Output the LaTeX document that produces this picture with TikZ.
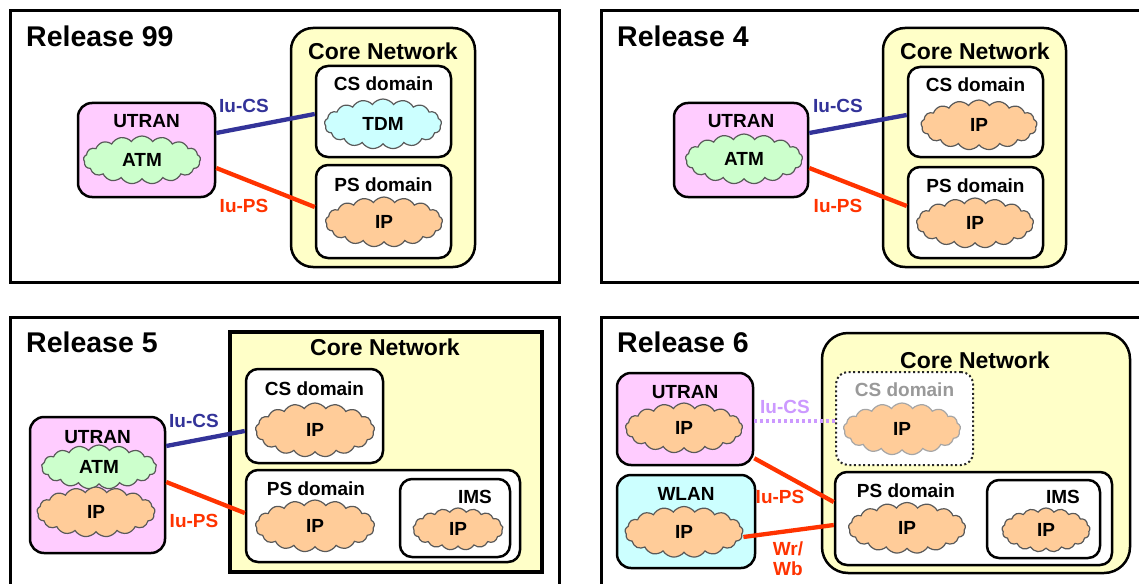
\documentclass[tikz,border=0pt]{standalone}
\usepackage{fontspec}
\setmainfont{Liberation Sans}
\usetikzlibrary{shapes.symbols}
\definecolor{coreY}{HTML}{FFFFC8}
\definecolor{ranM}{HTML}{FFCCFF}
\definecolor{atmG}{HTML}{CCFFCC}
\definecolor{tdmC}{HTML}{CCFFFF}
\definecolor{ipO}{HTML}{FFCC99}
\definecolor{wlanC}{HTML}{CCFFFF}
\definecolor{csBlue}{HTML}{333399}
\definecolor{psRed}{HTML}{FF3300}
\definecolor{lilac}{HTML}{CC99FF}
\definecolor{grayT}{HTML}{999999}
\tikzset{
  panel/.style={draw=black, line width=3pt, fill=white, rectangle, inner sep=0pt},
  corebox/.style={draw=black, line width=2.5pt, fill=coreY, rounded corners=22pt, rectangle, inner sep=0pt},
  dombox/.style={draw=black, line width=2.5pt, fill=white, rounded corners=12pt, rectangle, inner sep=0pt},
  ranbox/.style={draw=black, line width=2.5pt, fill=ranM, rounded corners=14pt, rectangle, inner sep=0pt},
  cl/.style={cloud, cloud puffs=17, cloud puff arc=110, cloud ignores aspect, draw=black!65, line width=1.2pt, inner sep=0pt, font=\fontsize{19}{19}\selectfont\bfseries},
  ipcl/.style={cl, fill=ipO},
  ttl/.style={font=\fontsize{28.5}{28.5}\selectfont\bfseries, anchor=base west, inner sep=0pt},
  corelbl/.style={font=\fontsize{23}{23}\selectfont\bfseries, anchor=base, inner sep=0pt},
  lbl/.style={font=\fontsize{19}{19}\selectfont\bfseries, anchor=base, inner sep=0pt},
  iucs/.style={draw=csBlue, line width=4.3pt},
  iups/.style={draw=psRed, line width=4.3pt},
}
\begin{document}
\begin{tikzpicture}[x=1pt,y=-1pt]
\useasboundingbox (0,0) rectangle (1139,583);
\clip (0,0) rectangle (1139,583);
\fill[white] (0,0) rectangle (1139,583);

% ---------------- Release 99 ----------------
\node[panel, minimum width=549pt, minimum height=271pt] (p99) at (284.5,146.5) {};
\node[ttl] (t99) at (26,47) {Release 99};
\node[corebox, minimum width=184pt, minimum height=239pt] (core99) at (383,147.5) {};
\node[corelbl] (core99l) at (383,60) {Core Network};
\node[dombox, minimum width=135pt, minimum height=91pt] (cs99) at (383.5,111.5) {};
\node[lbl] (cs99l) at (383.5,91) {CS domain};
\node[cl, fill=tdmC, minimum width=117pt, minimum height=50pt] (tdm99) at (383,124) {TDM};
\node[dombox, minimum width=135pt, minimum height=93pt] (ps99) at (383.5,211.5) {};
\node[lbl] (ps99l) at (383.5,191) {PS domain};
\node[ipcl, minimum width=117pt, minimum height=50pt] (psip99) at (384,222) {IP};
\node[ranbox, minimum width=137pt, minimum height=94pt] (ut99) at (146.5,150) {};
\node[lbl] (ut99l) at (146.5,128) {UTRAN};
\node[cl, fill=atmG, minimum width=117pt, minimum height=48pt] (atm99) at (142,160) {ATM};
\draw[iucs] ([yshift=17pt]ut99.east) -- ([yshift=-2.5pt]cs99.west);
\draw[iups] ([yshift=-18pt]ut99.east) -- ([yshift=4.5pt]ps99.west);
\node[lbl, text=csBlue] (iucs99) at (244,113) {Iu-CS};
\node[lbl, text=psRed] (iups99) at (244,212) {Iu-PS};

% ---------------- Release 4 ----------------
\node[panel, minimum width=559pt, minimum height=271pt] (p4) at (880.5,146.5) {};
\node[ttl] (t4) at (617,47) {Release 4};
\node[corebox, minimum width=183pt, minimum height=239pt] (core4) at (974.5,147.5) {};
\node[corelbl] (core4l) at (975,60) {Core Network};
\node[dombox, minimum width=135pt, minimum height=90pt] (cs4) at (975.5,112) {};
\node[lbl] (cs4l) at (975.5,92) {CS domain};
\node[ipcl, minimum width=116pt, minimum height=50pt] (csip4) at (979,125) {IP};
\node[dombox, minimum width=135pt, minimum height=91pt] (ps4) at (975.5,212.5) {};
\node[lbl] (ps4l) at (975.5,192) {PS domain};
\node[ipcl, minimum width=117pt, minimum height=50pt] (psip4) at (975,223) {IP};
\node[ranbox, minimum width=134pt, minimum height=94pt] (ut4) at (741,150) {};
\node[lbl] (ut4l) at (741,128) {UTRAN};
\node[cl, fill=atmG, minimum width=117pt, minimum height=50pt] (atm4) at (744,159) {ATM};
\draw[iucs] ([yshift=17pt]ut4.east) -- ([yshift=-3pt]cs4.west);
\draw[iups] ([yshift=-18pt]ut4.east) -- ([yshift=6.5pt]ps4.west);
\node[lbl, text=csBlue] (iucs4) at (838,113) {Iu-CS};
\node[lbl, text=psRed] (iups4) at (838,212) {Iu-PS};

% ---------------- Release 5 ----------------
\node[panel, minimum width=549pt, minimum height=283pt] (p5) at (284.5,458.5) {};
\node[ttl] (t5) at (26,352) {Release 5};
\node[draw=black, line width=4.5pt, fill=coreY, rectangle, inner sep=0pt, minimum width=312pt, minimum height=240pt] (core5) at (386,452) {};
\node[corelbl] (core5l) at (385,355) {Core Network};
\node[dombox, minimum width=137pt, minimum height=94pt] (cs5) at (314.5,416) {};
\node[lbl] (cs5l) at (314.5,395) {CS domain};
\node[ipcl, minimum width=119pt, minimum height=54pt] (csip5) at (315,430) {IP};
\node[dombox, minimum width=274pt, minimum height=92pt] (ps5) at (383,516) {};
\node[lbl] (ps5l) at (316,495) {PS domain};
\node[ipcl, minimum width=119pt, minimum height=52pt] (psip5) at (315,526) {IP};
\node[dombox, minimum width=110pt, minimum height=78pt] (ims5) at (455,518) {};
\node[lbl] (ims5l) at (475,503) {IMS};
\node[ipcl, minimum width=90pt, minimum height=42pt] (imsip5) at (458,529) {IP};
\node[ranbox, minimum width=135pt, minimum height=136pt] (ut5) at (97.5,485) {};
\node[lbl] (ut5l) at (97.5,443) {UTRAN};
\node[cl, fill=atmG, minimum width=115pt, minimum height=44pt] (atm5) at (99,467) {ATM};
\node[ipcl, minimum width=118pt, minimum height=50pt] (ranip5) at (96,512) {IP};
\draw[iucs] ([yshift=39pt]ut5.east) -- ([yshift=-15pt]cs5.west);
\draw[iups] ([yshift=3pt]ut5.east) -- ([yshift=3pt]ps5.west);
\node[lbl, text=csBlue] (iucs5) at (194,427) {Iu-CS};
\node[lbl, text=psRed] (iups5) at (194,527) {Iu-PS};

% ---------------- Release 6 ----------------
\node[panel, minimum width=559pt, minimum height=283pt] (p6) at (880.5,458.5) {};
\node[ttl] (t6) at (617,352) {Release 6};
\node[corebox, rounded corners=26pt, minimum width=308pt, minimum height=240pt] (core6) at (976,453) {};
\node[corelbl] (core6l) at (975,368) {Core Network};
\node[draw=black!85, line width=2pt, dash pattern=on 2pt off 2.6pt, fill=white, rounded corners=12pt, rectangle, inner sep=0pt, minimum width=137pt, minimum height=93pt] (cs6) at (904.5,418.5) {};
\node[lbl, text=grayT] (cs6l) at (904.5,396) {CS domain};
\node[ipcl, draw=black!35, minimum width=117pt, minimum height=52pt] (csip6) at (902,429) {IP};
\node[dombox, minimum width=277pt, minimum height=93pt] (ps6) at (973.5,518.5) {};
\node[lbl] (ps6l) at (906,497) {PS domain};
\node[ipcl, minimum width=117pt, minimum height=51pt] (psip6) at (907,528) {IP};
\node[dombox, minimum width=113pt, minimum height=78pt] (ims6) at (1043.5,519) {};
\node[lbl] (ims6l) at (1063,503) {IMS};
\node[ipcl, minimum width=88pt, minimum height=44pt] (imsip6) at (1046,530) {IP};
\node[ranbox, minimum width=136pt, minimum height=92pt] (ut6) at (685,419) {};
\node[lbl] (ut6l) at (685,398) {UTRAN};
\node[ipcl, minimum width=117pt, minimum height=50pt] (ranip6) at (684,428) {IP};
\node[ranbox, fill=wlanC, minimum width=138pt, minimum height=93pt] (wl6) at (686,521.5) {};
\node[lbl] (wl6l) at (686,500) {WLAN};
\node[ipcl, minimum width=118pt, minimum height=51pt] (wlip6) at (684,532) {IP};
\draw[draw=lilac, line width=4pt, dash pattern=on 3pt off 3pt] ([yshift=-2pt]ut6.east) -- ([yshift=-2.5pt]cs6.west);
\draw[iups] ([yshift=8pt]ut6.south east) -- ([yshift=16.5pt]ps6.west);
\draw[iups] ([yshift=-5pt]wlip6.east) -- ([yshift=-6.5pt]ps6.west);
\node[lbl, text=lilac] (iucs6) at (785,413) {Iu-CS};
\node[lbl, text=psRed] (iups6) at (780,503) {Iu-PS};
\node[lbl, text=psRed] (wr6) at (788,555) {Wr/};
\node[lbl, text=psRed] (wb6) at (788,575) {Wb};
\end{tikzpicture}
\end{document}
